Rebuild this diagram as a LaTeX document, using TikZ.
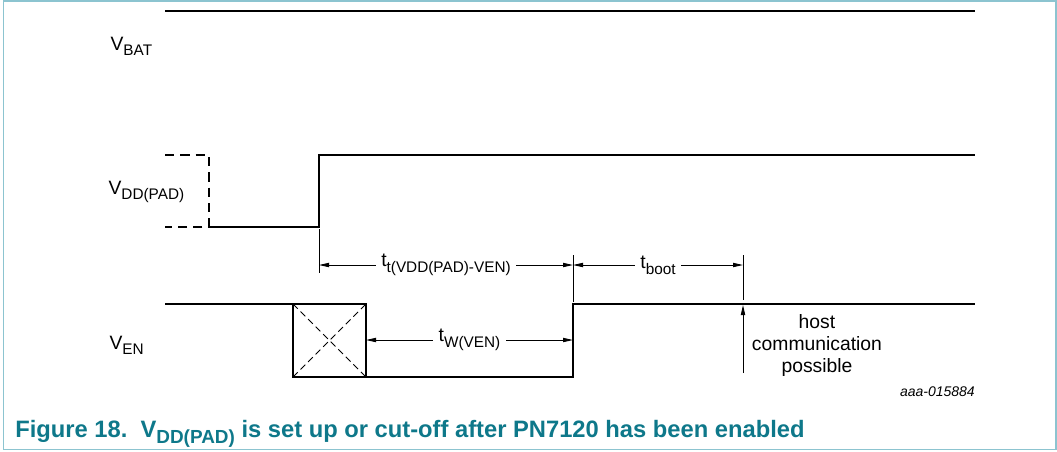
\documentclass[tikz,border=0pt]{standalone}
\usepackage{fontspec}
\setmainfont{Liberation Sans}
\usetikzlibrary{arrows.meta}
\definecolor{capteal}{RGB}{14,120,138}
\definecolor{frameblue}{RGB}{140,196,208}
\newcommand{\lo}[1]{\raisebox{-0.3em}{\fontsize{11.5}{12}\selectfont #1}}
\newcommand{\caplo}[1]{\raisebox{-0.28em}{\fontsize{14.2}{14}\selectfont\bfseries #1}}
\begin{document}
\begin{tikzpicture}[x=0.75pt, y=-0.75pt, line join=miter, >={Triangle[length=7.5pt,width=3.2pt]},
	sig/.style={line width=2.2pt},
	dim/.style={line width=0.7pt},
	lbl/.style={font=\fontsize{14.5}{16.5}\selectfont, inner sep=1pt}]
	\useasboundingbox (0,0) rectangle (1057,451);
	\draw[frameblue, line width=1.2pt] (3.5,0.8) rectangle (1055.8,449.5);
	\path
	(165,11)coordinate(bat0)
	(975,11)coordinate(bat1)
	(209,227)coordinate(padlo)
	(319,227)coordinate(padup)
	(293,304)coordinate(boxtl)
	(366,377)coordinate(boxbr)
	(573,377)coordinate(enup)
	(743,265)coordinate(bootend)
	;
	% supply lines
	\draw[sig] (bat0) -- (bat1);
	\draw[sig, dash pattern=on 7pt off 4.5pt] (165,155) -- (209,155) -- (padlo) -- (165,227);
	\draw[sig] (padlo) -- (padup) -- (319,155) -- (975,155);
	\draw[sig] (165,304) -- (boxtl) |- (enup) -- (573,304) -- (975,304);
	\draw[sig] (boxtl) rectangle (boxbr);
	\draw[dim, dash pattern=on 5pt off 3pt] (boxtl) -- (boxbr) (293,377) -- (366,304);
	% timing
	\draw[dim] (319,229) -- (319,273);
	\draw[dim] (573,255) -- (573,302);
	\draw[dim] (743,255) -- (743,300);
	\draw[dim,<->] (319,265) -- node[lbl, fill=white, inner xsep=4pt] (ttl) {t\lo{t(VDD(PAD)-VEN)}} (573,265);
	\draw[dim,<->] (573,265) -- node[lbl, fill=white, inner xsep=4pt] (tboot) {t\lo{boot}} (bootend);
	\draw[dim,<->] (366,340) -- node[lbl, fill=white, inner xsep=4pt] (twl) {t\lo{W(VEN)}} (573,340);
	\draw[dim,->] (743,373) -- (743,305);
	% labels
	\node[lbl, anchor=base west] (vbat) at (109,50) {V\lo{BAT}};
	\node[lbl, anchor=base west] (vpad) at (107,194) {V\lo{DD(PAD)}};
	\node[lbl, anchor=base west] (ven) at (108,349) {V\lo{EN}};
	\node[lbl, align=center] (host) at (817,345) {host\\communication\\possible};
	\node[font=\fontsize{10.5}{12}\selectfont\itshape, anchor=base east, inner sep=0pt] (fignum) at (975,396) {aaa-015884};
	\node[font=\fontsize{17.8}{20}\selectfont\bfseries, text=capteal, anchor=base west, inner sep=0pt] (cap) at (15,437)
		{Figure 18.\ \ V\caplo{DD(PAD)} is set up or cut-off after PN7120 has been enabled};
\end{tikzpicture}
\end{document}
